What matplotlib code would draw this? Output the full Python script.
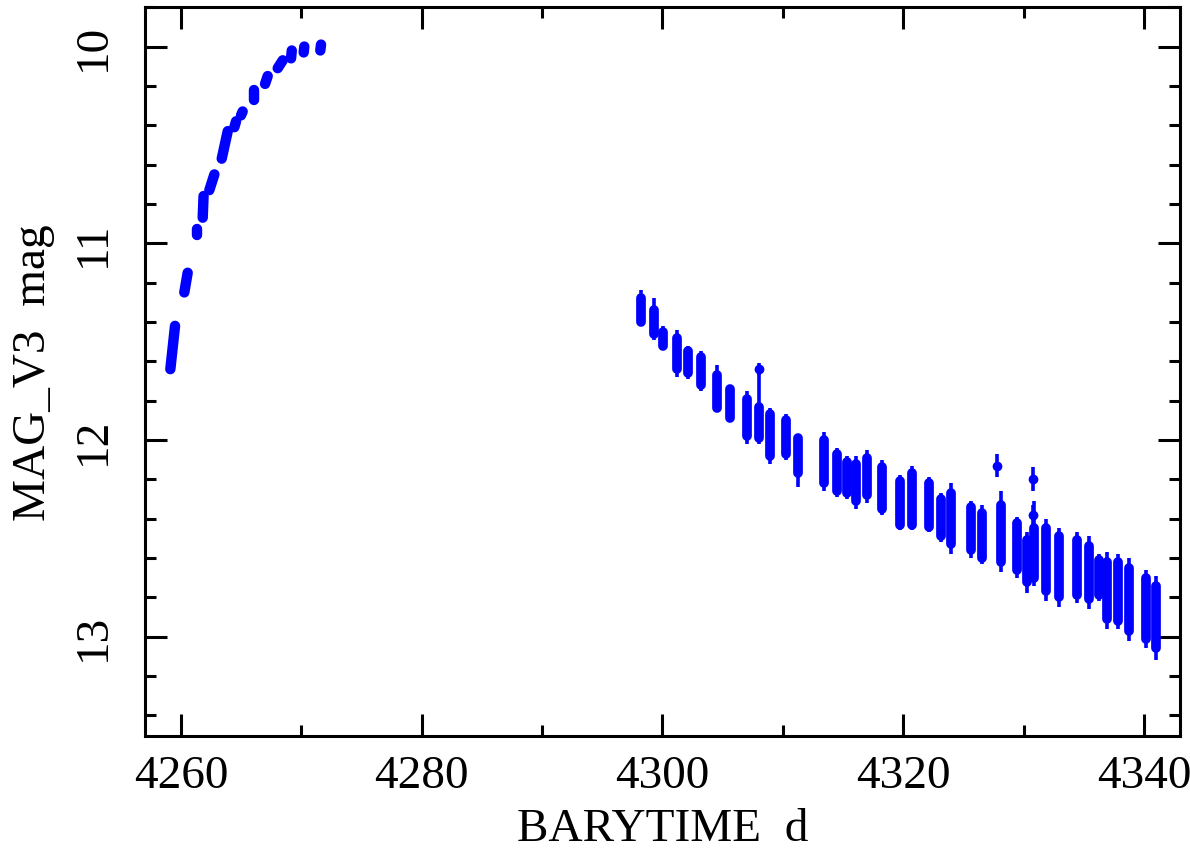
import numpy as np
import matplotlib.pyplot as plt
from matplotlib.ticker import MultipleLocator

plt.rcParams['font.family'] = ['Liberation Serif', 'DejaVu Serif']

# -- rising part: each nightly group is a slanted streak (t0,m0) -> (t1,m1) --
rise_t0 = [4259.11, 4260.27, 4261.33, 4261.80, 4262.35, 4263.38, 4264.43,
           4264.98, 4266.09, 4266.98, 4268.03, 4269.14, 4270.19, 4271.57]
rise_t1 = [4259.50, 4260.55, 4261.33, 4261.87, 4262.77, 4263.88, 4264.57,
           4265.12, 4266.09, 4267.20, 4268.45, 4269.20, 4270.24, 4271.63]
rise_m0 = [11.64, 11.25, 10.96, 10.87, 10.73, 10.57, 10.41,
           10.35, 10.27, 10.19, 10.11, 10.06, 10.03, 10.02]
rise_m1 = [11.42, 11.15, 10.93, 10.76, 10.65, 10.43, 10.38,
           10.33, 10.22, 10.15, 10.07, 10.02, 10.00, 9.99]

# -- declining part: time, full extent (bright, faint) and dense core of each night --
dec_t = [4298.20, 4299.31, 4300.06, 4301.17, 4302.16, 4303.24, 4304.50,
         4305.61, 4307.00, 4308.02, 4308.95, 4310.25, 4311.22, 4313.41,
         4314.53, 4315.36, 4316.11, 4317.00, 4318.20, 4319.75, 4320.77,
         4322.15, 4323.12, 4324.00, 4325.66, 4326.57, 4328.10, 4329.43,
         4330.26, 4330.87, 4331.84, 4332.95, 4334.47, 4335.44, 4336.27,
         4336.97, 4337.85, 4338.76, 4340.15, 4340.98]
dec_hi = [11.24, 11.28, 11.42, 11.44, 11.52, 11.55, 11.62,
          11.72, 11.75, 11.64, 11.84, 11.87, 11.97, 11.96,
          12.04, 12.08, 12.08, 12.05, 12.10, 12.18, 12.13,
          12.19, 12.27, 12.22, 12.31, 12.33, 12.26, 12.39,
          12.47, 12.31, 12.40, 12.45, 12.47, 12.49, 12.58,
          12.57, 12.58, 12.60, 12.66, 12.69]
dec_lo = [11.42, 11.49, 11.54, 11.68, 11.69, 11.75, 11.86,
          11.91, 12.02, 12.02, 12.12, 12.10, 12.24, 12.26,
          12.29, 12.30, 12.35, 12.32, 12.38, 12.46, 12.46,
          12.47, 12.52, 12.58, 12.60, 12.63, 12.67, 12.70,
          12.78, 12.74, 12.82, 12.85, 12.83, 12.86, 12.82,
          12.96, 12.96, 13.02, 13.06, 13.12]
core_hi = [11.28, 11.34, 11.45, 11.48, 11.55, 11.58, 11.67,
           11.74, 11.79, 11.83, 11.87, 11.90, 11.99, 12.00,
           12.07, 12.11, 12.12, 12.09, 12.14, 12.21, 12.17,
           12.22, 12.30, 12.27, 12.34, 12.37, 12.33, 12.42,
           12.51, 12.45, 12.45, 12.49, 12.51, 12.54, 12.61,
           12.62, 12.62, 12.65, 12.70, 12.74]
core_lo = [11.40, 11.46, 11.52, 11.64, 11.66, 11.72, 11.84,
           11.89, 11.98, 11.99, 12.08, 12.07, 12.17, 12.22,
           12.26, 12.27, 12.31, 12.28, 12.35, 12.43, 12.43,
           12.44, 12.49, 12.53, 12.56, 12.60, 12.62, 12.66,
           12.72, 12.70, 12.77, 12.80, 12.79, 12.81, 12.79,
           12.91, 12.92, 12.97, 13.01, 13.06]

# -- single deviant points with error bars --
odd_t = [4308.02, 4327.81, 4330.76, 4330.76]
odd_m = [11.64, 12.13, 12.20, 12.38]
odd_err = [0.03, 0.06, 0.06, 0.05]

blue = '#0000ff'

fig = plt.figure(figsize=(11.9, 8.54), dpi=100)
ax = fig.add_axes([0.1218, 0.137, 0.8698, 0.8534])

for t0, t1, m0, m1 in zip(rise_t0, rise_t1, rise_m0, rise_m1):
    ax.plot([t0, t1], [m0, m1], color=blue, lw=7.5, solid_capstyle='round')

ax.vlines(dec_t, dec_hi, dec_lo, color=blue, lw=2.6)
for t, a, b in zip(dec_t, core_hi, core_lo):
    ax.plot([t, t], [a, b], color=blue, lw=7.0, solid_capstyle='round')

ax.errorbar(odd_t, odd_m, yerr=odd_err, fmt='o', ms=6, color=blue,
            elinewidth=2.6, capsize=0)

ax.set_xlim(4257.0, 4343.0)
ax.set_ylim(13.505, 9.80)

ax.xaxis.set_major_locator(MultipleLocator(20))
ax.xaxis.set_minor_locator(MultipleLocator(10))
ax.yaxis.set_major_locator(MultipleLocator(1))
ax.yaxis.set_minor_locator(MultipleLocator(0.2))

ax.tick_params(which='both', direction='in', top=True, right=True,
               width=2.2, labelsize=34)
ax.tick_params(which='major', length=16)
ax.tick_params(which='minor', length=8)
ax.tick_params(axis='x', pad=13)
ax.tick_params(axis='y', pad=22)
for lab in ax.get_yticklabels():
    lab.set_rotation(90)
    lab.set_va('center')

for s in ax.spines.values():
    s.set_linewidth(2.2)

ax.set_xlabel('BARYTIME  d', fontsize=34, labelpad=8)
ax.set_ylabel('MAG_V3  mag', fontsize=34, labelpad=12)

fig.savefig('out.png', dpi=100)
